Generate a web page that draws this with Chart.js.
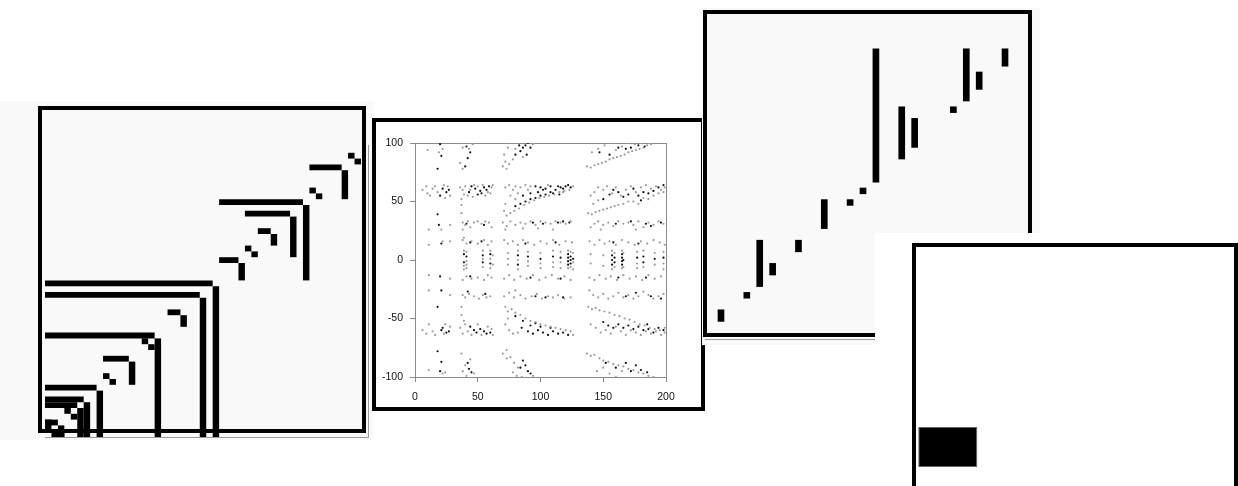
<!DOCTYPE html>
<html>
<head>
<meta charset="utf-8">
<title>four panels</title>
<script src="https://cdn.jsdelivr.net/npm/chart.js@4.4.0/dist/chart.umd.min.js"></script>
<style>
  html, body { margin: 0; padding: 0; background: #fff; width: 1238px; height: 486px; overflow: hidden; position: relative; }
  .abs { position: absolute; box-sizing: border-box; }
  canvas { position: absolute; }
</style>
</head>
<body>
<!-- panel 1: recurrence grid -->
<div class="abs" style="left:0;top:101px;width:373px;height:339px;background:#f9f9f9"></div>
<div class="abs" style="left:45px;top:145px;width:324px;height:293px;border-right:1px solid #999;border-bottom:1px solid #999"></div>
<div class="abs" style="left:38px;top:106px;width:328px;height:327px;border:4px solid #000"></div>
<canvas id="recurrence" style="left:45px;top:110px" width="316" height="327"></canvas>

<!-- panel 2: scatter -->
<div class="abs" style="left:372px;top:118px;width:333px;height:293px;border:4px solid #000;background:#fff"></div>
<canvas id="scatter" style="left:376px;top:122px" width="325" height="285"></canvas>

<!-- panel 3: steps -->
<div class="abs" style="left:702px;top:8px;width:338px;height:337px;background:#f9f9f9"></div>
<div class="abs" style="left:705px;top:339px;width:170px;height:1px;border-top:1px solid #999"></div>
<div class="abs" style="left:703px;top:10px;width:329px;height:327px;border:4px solid #000"></div>
<canvas id="steps" style="left:707px;top:14px" width="321" height="319"></canvas>

<!-- panel 4: single block -->
<div class="abs" style="left:875px;top:233px;width:363px;height:253px;background:#fff"></div>
<div class="abs" style="left:912px;top:243px;width:326px;height:260px;border:4px solid #000"></div>
<canvas id="block" style="left:916px;top:247px" width="318" height="239"></canvas>

<script>
// ---- panel 1: black runs in a 49 x 49 grid (cells) ----
const gridCols = 49;
const rowRuns = [ // [row, firstCol, lastCol]
  [26, 0, 25], [24, 0, 23], [21, 19, 20], [17, 0, 16], [16, 15, 15], [15, 16, 16],
  [13, 9, 12], [10, 9, 9], [9, 10, 10], [8, 0, 7], [6, 0, 5], [5, 0, 4], [4, 3, 3],
  [3, 4, 4], [2, 0, 1], [0, 1, 2],
  [48, 47, 47], [47, 48, 48], [46, 41, 45], [42, 41, 41], [41, 42, 42], [40, 27, 39],
  [38, 31, 37], [35, 33, 34], [32, 31, 31], [31, 32, 32], [30, 27, 29]
];
const colRuns = [ // [col, firstRow, lastRow]
  [26, 0, 25], [24, 0, 23], [21, 19, 20], [17, 0, 16], [13, 9, 12], [8, 0, 7],
  [6, 0, 5], [5, 0, 4], [2, 0, 1], [0, 1, 2],
  [46, 41, 45], [40, 27, 39], [38, 31, 37], [35, 33, 34], [30, 27, 29]
];

// ---- panel 2: scatter dots [x, y] ----
const darkDots = [
  [20,99],[21,89],[18,78],[22,61],[25,58],[20,55],[27,60],[18,39],[19,30],[21,14],
  [20,-14],[21,-26],[18,-40],[22,-58],[25,-62],[21,-60],[27,-61],[18,-78],[21,-87],[20,-95],
  [41,97],[44,92],[42,87],[40,80],[45,63],[48,61],[52,59],[55,62],[57,60],[59,63],[43,58],[50,56],[53,57],
  [41,31],[55,30],[44,15],[53,16],[39,5],[39,-2],[41,3],[54,4],[54,-2],[60,5],[60,-3],
  [44,-14],[42,-27],[56,-29],[44,-57],[47,-60],[49,-62],[52,-59],[55,-61],[57,-63],[60,-62],
  [42,-88],[43,-93],[45,-96],
  [80,90],[84,93],[86,96],[88,98],[90,100],[89,90],[92,96],[83,98],
  [96,63],[100,62],[104,61],[108,63],[112,60],[114,63],[116,62],[118,61],[120,63],[122,64],[124,62],
  [108,58],[104,56],[100,55],[96,53],[92,52],[88,50],[84,48],[80,46],[98,58],[102,60],[110,57],[115,56],[92,57],[86,55],
  [94,32],[102,31],[114,32],[118,33],[123,32],[88,14],[112,15],
  [82,4],[82,-4],[90,3],[100,1],[110,3],[116,2],[122,5],[122,2],[122,-1],[122,-4],[124,3],[124,0],[124,-3],[126,1],
  [92,-15],[116,-16],[96,-31],[104,-32],[118,-32],
  [85,-58],[90,-61],[94,-63],[98,-60],[102,-62],[106,-64],[110,-61],[114,-63],[118,-62],[122,-64],[92,-56],[100,-57],[108,-58],[86,-52],[80,-48],[96,-54],
  [86,-86],[88,-90],[90,-95],[92,-97],[84,-92],
  [147,92],[155,90],[162,96],[168,95],[172,96],[178,98],[183,97],
  [150,52],[155,56],[158,60],[162,58],[166,54],[170,56],[174,61],[178,55],[182,58],[186,57],[190,59],[194,62],[198,64],[180,51],
  [160,31],[172,33],[184,31],[196,32],[188,29],[158,15],[178,14],
  [157,4],[157,0],[157,-4],[159,2],[159,-2],[165,5],[165,2],[165,-1],[165,-4],[166,0],[177,2],[182,3],[182,-2],[191,1],[198,2],
  [162,-15],[184,-15],[168,-31],[176,-28],[188,-31],[196,-33],
  [150,-53],[154,-56],[158,-58],[162,-55],[166,-58],[170,-56],[174,-59],[178,-57],[182,-60],[186,-59],[190,-62],[194,-58],[198,-60],[185,-55],
  [152,-88],[160,-92],[168,-88],[172,-95],[180,-94],[185,-96],[176,-90]
];
const lightDots = [
  [10,94],[22,95],[19,92],[6,60],[9,63],[10,57],[12,55],[14,61],[16,63],[18,58],[23,64],[26,63],[28,55],[24,53],
  [11,26],[21,26],[28,30],[11,13],[22,16],[28,16],[11,-13],[28,-16],[11,-26],[28,-30],
  [6,-60],[9,-63],[11,-55],[14,-61],[16,-64],[24,-55],[28,-57],[23,-63],[11,-94],[22,-97],[24,-96],
  [37,100],[46,99],[38,96],[43,95],[36,83],[38,78],[44,100],
  [36,62],[38,60],[40,63],[42,55],[44,60],[47,64],[50,63],[54,64],[58,58],[61,62],[37,52],[39,56],[46,54],[56,55],[60,57],[62,64],
  [37,47],[37,40],
  [38,32],[40,30],[42,33],[44,28],[47,32],[50,33],[53,31],[56,33],[59,32],[61,28],[38,26],
  [38,17],[41,14],[45,16],[50,14],[55,17],[58,13],[61,16],[39,19],
  [39,8],[39,-5],[39,-8],[41,7],[41,-1],[41,-4],[41,-7],[54,8],[54,1],[54,-6],[60,8],[60,1],[60,-7],[62,4],[62,-4],
  [38,-17],[41,-14],[45,-16],[50,-15],[55,-17],[58,-13],[61,-15],
  [38,-30],[40,-32],[43,-29],[47,-31],[51,-33],[54,-30],[57,-32],[60,-31],[37,-40],[37,-47],
  [36,-58],[38,-63],[40,-55],[42,-61],[45,-64],[50,-55],[53,-64],[58,-57],[61,-59],[39,-52],[62,-64],
  [37,-80],[40,-90],[38,-95],[41,-99],[44,-85],[47,-97],
  [70,80],[72,84],[75,82],[78,86],[71,90],[74,96],[77,100],[82,100],[86,88],[94,99],[80,95],[73,78],
  [72,62],[75,64],[78,60],[80,63],[84,62],[88,64],[92,63],[76,55],[80,52],[72,48],[71,42],[73,38],[76,40],[79,42],
  [83,44],[87,47],[91,49],[95,51],[99,53],[103,54],[107,55],[111,56],[115,58],[119,59],[123,60],[126,63],[82,57],[90,60],[106,64],[118,58],
  [70,32],[73,29],[76,33],[80,30],[84,32],[88,31],[92,33],[96,30],[100,33],[104,32],[108,31],[112,33],[116,32],[120,31],[124,33],
  [72,26],[86,27],[98,27],[110,26],
  [71,17],[74,14],[78,16],[82,13],[86,17],[90,15],[95,13],[100,16],[105,14],[110,17],[115,13],[120,16],[125,15],
  [74,6],[74,1],[74,-4],[82,8],[82,0],[82,-8],[90,7],[90,-1],[90,-5],[100,6],[100,-3],[100,-7],[110,8],[110,-2],[110,-6],
  [116,7],[116,-2],[116,-7],[122,8],[122,-7],[124,7],[124,-6],[126,6],[126,-2],[126,-8],
  [71,-16],[75,-13],[79,-17],[84,-14],[89,-16],[94,-13],[99,-17],[104,-15],[109,-13],[114,-16],[119,-14],[124,-17],
  [71,-31],[75,-28],[79,-32],[84,-30],[88,-33],[93,-31],[97,-29],[101,-33],[106,-31],[110,-32],[114,-30],[119,-33],[124,-32],[80,-26],
  [72,-40],[74,-44],[77,-42],[80,-45],[84,-47],[88,-50],[92,-52],[96,-53],[100,-55],[104,-56],[108,-57],[112,-58],[116,-59],
  [120,-60],[124,-61],[126,-64],[72,-55],[75,-60],[78,-63],[82,-62],[74,-50],
  [70,-80],[73,-84],[76,-83],[79,-88],[82,-92],[78,-96],[81,-99],[94,-99],[85,-100],[73,-77],
  [137,80],[140,79],[143,81],[146,82],[149,83],[152,84],[155,86],[158,87],[161,88],[164,89],[167,90],[170,92],[173,93],
  [176,94],[179,95],[182,96],[185,98],[188,99],[141,92],[146,95],[151,98],[156,100],[160,94],[165,97],[170,100],[175,99],[180,100],[187,100],
  [138,40],[141,39],[144,41],[147,42],[150,43],[153,44],[156,45],[159,46],[162,47],[166,48],[170,50],
  [140,55],[143,58],[146,62],[150,60],[153,63],[157,57],[160,62],[164,55],[168,60],[172,63],[176,58],[180,62],[184,64],
  [188,61],[192,63],[196,60],[199,62],[142,48],[146,51],[174,50],[178,48],[182,53],[186,52],[190,55],[194,57],[198,58],
  [140,28],[143,31],[146,33],[150,30],[154,32],[158,29],[162,33],[166,31],[170,32],[174,30],[178,33],[182,28],[186,32],
  [190,30],[194,33],[198,31],[148,26],[176,26],
  [139,16],[143,13],[147,17],[151,14],[155,16],[160,13],[165,17],[170,15],[175,13],[180,16],[185,14],[190,17],[195,15],[199,13],
  [140,5],[140,-3],[150,4],[150,-5],[157,8],[157,-8],[159,6],[159,-6],[165,8],[165,-7],[166,6],[166,-6],
  [177,7],[177,-3],[177,-7],[182,8],[182,-6],[191,6],[191,-4],[198,7],[198,-3],[198,-8],
  [139,-15],[143,-17],[147,-13],[152,-16],[156,-14],[161,-17],[166,-13],[171,-16],[176,-14],[181,-17],[186,-13],[191,-16],[196,-14],
  [139,-26],[142,-30],[146,-32],[150,-29],[154,-33],[158,-31],[162,-28],[166,-32],[170,-30],[174,-33],[178,-31],[182,-27],
  [186,-30],[190,-33],[194,-31],[198,-29],
  [138,-40],[141,-42],[144,-41],[147,-43],[151,-44],[155,-45],[159,-47],[163,-48],[167,-50],[171,-51],[175,-53],[179,-55],
  [183,-56],[187,-58],[191,-59],[195,-60],[199,-62],[140,-55],[144,-58],[148,-62],[152,-60],[156,-63],[160,-57],[164,-61],
  [168,-64],[172,-60],[176,-62],[180,-64],[184,-61],[188,-63],[192,-61],[196,-64],[199,-58],
  [137,-80],[140,-82],[143,-81],[147,-84],[150,-86],[154,-87],[158,-89],[162,-90],[166,-91],[170,-93],[174,-94],[178,-96],
  [182,-97],[186,-99],[190,-100],[145,-95],[150,-92],[155,-97],[160,-100],[165,-95]
];
const scatterTicksX = [0, 50, 100, 150, 200];
const scatterTicksY = [-100, -50, 0, 50, 100];

// ---- panel 3: floating steps (column, low row, high row) ----
const stepCols = [0, 2, 3, 4, 6, 8, 10, 11, 12, 14, 15, 18, 19, 20, 22];
const stepLow  = [2, 6, 8, 10, 14, 18, 22, 24, 26, 30, 32, 38, 40, 42, 46];
const stepHigh = [4, 7, 16, 12, 16, 23, 23, 25, 49, 39, 37, 39, 49, 45, 49];

// ---- panel 4: one block ----
const blockLabels = ['1', '2', '3', '4', '5'];
const blockRanges = [[19, 59], null, null, null, null];

Chart.defaults.font.family = "'Liberation Sans', Arial, sans-serif";
const bare = {
  responsive: false,
  animation: false,
  events: [],
  plugins: { legend: { display: false }, tooltip: { enabled: false } }
};

// panel 1
const cellW = 316 / gridCols;     // px per column
const cellH = 5.8;                // px per row
const segments = [];
rowRuns.forEach(([r, c0, c1]) => {
  segments.push({ pts: [{ x: c0, y: r + 0.5 }, { x: c1 + 1, y: r + 0.5 }], w: cellH });
});
colRuns.forEach(([c, r0, r1]) => {
  segments.push({ pts: [{ x: c + 0.5, y: r0 }, { x: c + 0.5, y: r1 + 1 }], w: cellW });
});
new Chart(document.getElementById('recurrence'), {
  type: 'scatter',
  data: {
    datasets: segments.map(s => ({
      data: s.pts, showLine: true, borderColor: '#000', borderWidth: s.w,
      borderCapStyle: 'butt', pointRadius: 0, clip: false
    }))
  },
  options: Object.assign({}, bare, {
    scales: {
      x: { type: 'linear', min: 0, max: gridCols, display: false },
      y: { type: 'linear', min: 0, max: 327 / cellH, display: false }
    }
  })
});

// panel 2
const axisGrey = '#8a8a8a';
const tickFont = { size: 10.5 };
new Chart(document.getElementById('scatter'), {
  type: 'scatter',
  data: {
    datasets: [
      { data: lightDots.map(([x, y]) => ({ x, y })), pointRadius: 1.1, pointBorderWidth: 0, pointBackgroundColor: '#9c9c9c' },
      { data: darkDots.map(([x, y]) => ({ x, y })), pointRadius: 1.1, pointBorderWidth: 0, pointBackgroundColor: '#111' }
    ]
  },
  options: Object.assign({}, bare, {
    layout: { padding: { top: 21, right: 35, left: 0, bottom: 0 } },
    scales: {
      x: {
        type: 'linear', position: 'bottom', min: 0, max: 200,
        afterFit: s => { s.height = 30; },
        afterBuildTicks: s => { s.ticks = scatterTicksX.map(v => ({ value: v })); },
        ticks: { color: '#111', padding: 9, font: tickFont, maxRotation: 0 },
        grid: { drawOnChartArea: false, tickLength: 5, color: axisGrey },
        border: { color: axisGrey }
      },
      y: {
        type: 'linear', position: 'left', min: -100, max: 100,
        afterFit: s => { s.width = 39; },
        afterBuildTicks: s => { s.ticks = scatterTicksY.map(v => ({ value: v })); },
        ticks: { color: '#111', padding: 7, font: tickFont },
        grid: { drawOnChartArea: false, tickLength: 5, color: axisGrey },
        border: { color: axisGrey }
      },
      x2: {
        type: 'linear', position: 'top', min: 0, max: 200,
        afterFit: s => { s.height = 0; },
        ticks: { display: false },
        grid: { drawOnChartArea: false, drawTicks: false, color: axisGrey },
        border: { color: axisGrey }
      },
      y2: {
        type: 'linear', position: 'right', min: -100, max: 100,
        afterFit: s => { s.width = 0; },
        ticks: { display: false },
        grid: { drawOnChartArea: false, drawTicks: false, color: axisGrey },
        border: { color: axisGrey }
      }
    }
  })
});

// panel 3
const colStep = 12.91;
new Chart(document.getElementById('steps'), {
  type: 'bar',
  data: {
    datasets: [{
      data: stepCols.map((c, i) => ({ x: c, y: [stepLow[i], stepHigh[i]] })),
      backgroundColor: '#000', borderWidth: 0, barThickness: 6
    }]
  },
  options: Object.assign({}, bare, {
    scales: {
      x: { type: 'linear', min: -14 / colStep, max: (321 - 14) / colStep, offset: false, display: false },
      y: { type: 'linear', min: 0, max: 319 / 5.8, display: false }
    }
  })
});

// panel 4
new Chart(document.getElementById('block'), {
  type: 'bar',
  data: {
    labels: blockLabels,
    datasets: [{
      data: blockRanges, backgroundColor: '#000', borderColor: '#666', borderWidth: 1,
      borderSkipped: false, barPercentage: 0.93, categoryPercentage: 1
    }]
  },
  options: Object.assign({}, bare, {
    scales: {
      x: { display: false },
      y: { min: 0, max: 239, display: false }
    }
  })
});
</script>
</body>
</html>
